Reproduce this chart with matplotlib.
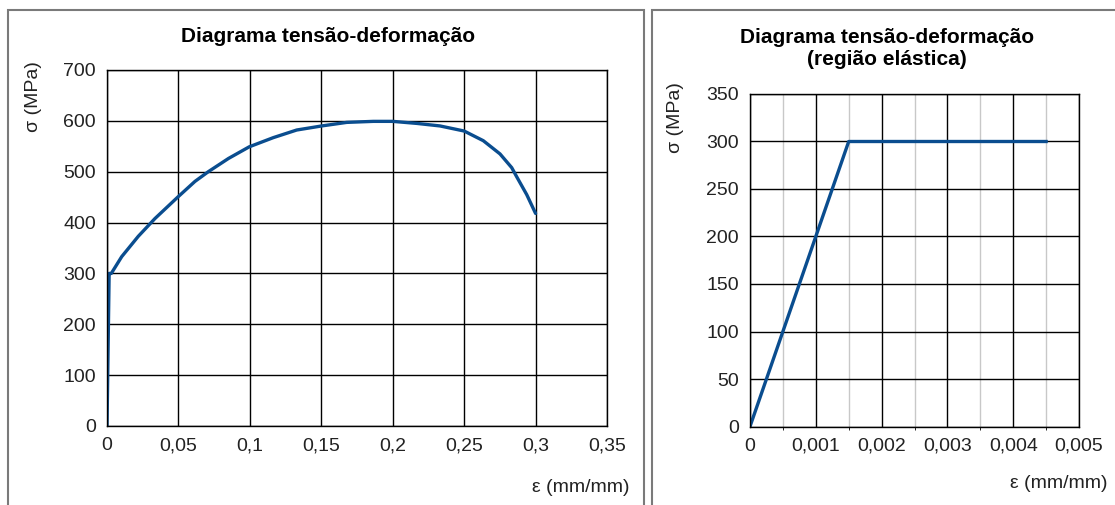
import numpy as np
import matplotlib.pyplot as plt
from matplotlib.ticker import MultipleLocator, FuncFormatter
from matplotlib.patches import Rectangle

plt.rcParams['font.family'] = ['Liberation Sans', 'DejaVu Sans']

# full stress-strain curve
eps_full = [0, 0.0015, 0.003, 0.0103, 0.0219, 0.0336, 0.0495, 0.0616, 0.0709,
            0.085, 0.0996, 0.1164, 0.1328, 0.1503, 0.1678, 0.1864, 0.2, 0.2168,
            0.2331, 0.25, 0.2634, 0.2751, 0.2833, 0.2868, 0.2938, 0.3]
sig_full = [0, 300, 300, 333, 373, 408, 450, 481, 500,
            526, 549, 567, 582, 590, 597, 599, 599, 595,
            590, 580, 561, 535, 508, 490, 455, 418]

# elastic region
eps_el = [0, 0.0015, 0.0045]
sig_el = [0, 300, 300]

LINE = '#0a4d8f'
W, H = 1115, 505


def comma(v, pos):
    s = f'{v:.4f}'.rstrip('0').rstrip('.')
    return s.replace('.', ',')


def style(ax, xmax, xstep, ymax, ystep):
    ax.set_xlim(0, xmax)
    ax.set_ylim(0, ymax)
    ax.xaxis.set_major_locator(MultipleLocator(xstep))
    ax.yaxis.set_major_locator(MultipleLocator(ystep))
    ax.xaxis.set_major_formatter(FuncFormatter(comma))
    ax.yaxis.set_major_formatter(FuncFormatter(lambda v, p: f'{v:.0f}'))
    ax.grid(True, which='major', color='black', linewidth=1.0)
    ax.tick_params(length=0, labelsize=14, pad=8, colors='#222222')
    for sp in ax.spines.values():
        sp.set_color('black')
        sp.set_linewidth(1.0)
    ax.set_axisbelow(True)


fig = plt.figure(figsize=(W / 100, H / 100), dpi=100)

# panel frames
for x0, x1 in [(8, 644), (652, 1125)]:
    fig.add_artist(Rectangle((x0 / W, -0.1), (x1 - x0) / W, 1.1 - 9.5 / H,
                             transform=fig.transFigure, fill=False,
                             edgecolor='#7a7a7a', linewidth=1.5))

ax1 = fig.add_axes([107 / W, 1 - 426 / H, 500 / W, 356 / H])
style(ax1, 0.35, 0.05, 700, 100)
ax1.plot(eps_full, sig_full, color=LINE, linewidth=2.4,
         solid_joinstyle='round', solid_capstyle='round')

ax2 = fig.add_axes([750 / W, 1 - 426.5 / H, 329 / W, 332.5 / H])
style(ax2, 0.005, 0.001, 350, 50)
ax2.xaxis.set_minor_locator(MultipleLocator(0.0005))
ax2.grid(True, which='minor', axis='x', color='#c8c8c8', linewidth=1.0)
ax2.plot(eps_el, sig_el, color=LINE, linewidth=2.4)

# titles and axis labels
fig.text(328 / W, 1 - 36 / H, 'Diagrama tensão-deformação', ha='center', va='center',
         fontsize=15, fontweight='bold')
fig.text(887 / W, 1 - 48.5 / H, 'Diagrama tensão-deformação\n(região elástica)',
         ha='center', va='center', fontsize=15, fontweight='bold', linespacing=1.22)

fig.text(33 / W, 1 - 97 / H, 'σ (MPa)', rotation=90, ha='center', va='center',
         fontsize=14, color='#222222')
fig.text(675 / W, 1 - 118 / H, 'σ (MPa)', rotation=90, ha='center', va='center',
         fontsize=14, color='#222222')
fig.text(630 / W, 1 - 487 / H, 'ε (mm/mm)', ha='right', va='center',
         fontsize=14, color='#222222')
fig.text(1107 / W, 1 - 483 / H, 'ε (mm/mm)', ha='right', va='center',
         fontsize=14, color='#222222')

plt.savefig('out.png', dpi=100)
